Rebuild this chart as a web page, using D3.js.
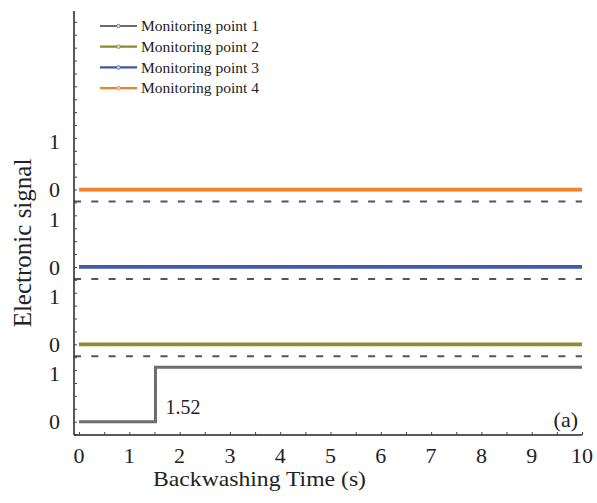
<!DOCTYPE html>
<html>
<head>
<meta charset="utf-8">
<script src="https://cdn.jsdelivr.net/npm/d3@7"></script>
<style>
  body { margin: 0; background: #fff; }
</style>
</head>
<body>
<div id="chart"></div>
<script>
// backwashing time (s) and the 0/1 signal of each monitoring point
const time = [0, 1.52, 1.52, 10];
const point1 = [0, 0, 1, 1];
const point2 = [0, 0, 0, 0];
const point3 = [0, 0, 0, 0];
const point4 = [0, 0, 0, 0];
const seriesNames = ["Monitoring point 1", "Monitoring point 2", "Monitoring point 3", "Monitoring point 4"];
const seriesColors = ["#6b6b6b", "#8a8a2e", "#3d57a9", "#f2802a"];
const xTicks = [0, 1, 2, 3, 4, 5, 6, 7, 8, 9, 10];
const stepLabel = "1.52";
const panelLabel = "(a)";

const offset = 1.42;        // vertical stacking distance between traces
const W = 597, H = 503;
const mLeft = 74, mRight = 582, mTop = 11, mBottom = 435;
const serif = "'Liberation Serif', 'Times New Roman', Times, 'DejaVu Serif', serif";

const svg = d3.select("#chart").append("svg")
  .attr("width", W).attr("height", H)
  .style("font-family", serif);

const x = d3.scaleLinear().domain([-0.1, 10]).range([mLeft, mRight]);
const y = d3.scaleLinear().domain([-0.244, 7.536]).range([mBottom, mTop]);

const series = [point1, point2, point3, point4];

// dashed separators between traces
[1, 2, 3].forEach(k => {
  svg.append("line")
    .attr("x1", mLeft).attr("x2", mRight)
    .attr("y1", y(k * offset - 0.22)).attr("y2", y(k * offset - 0.22))
    .attr("stroke", "#555").attr("stroke-width", 2)
    .attr("stroke-dasharray", "7,10.3");
});

// traces
const line = d3.line().x(d => x(d[0])).y(d => y(d[1]));
series.forEach((s, i) => {
  const pts = time.map((t, j) => [t, s[j] + i * offset]);
  svg.append("path")
    .attr("d", line(pts))
    .attr("fill", "none")
    .attr("stroke", seriesColors[i])
    .attr("stroke-width", i === 0 ? 3 : 3.8);
  svg.append("path")
    .attr("d", line(pts))
    .attr("fill", "none")
    .attr("stroke", "#fff")
    .attr("stroke-opacity", 0.18)
    .attr("stroke-width", 0.8)
    .attr("stroke-dasharray", "1,2");
});

// axes
const yMinor = d3.range(-1, 32).map(k => k * offset / 6);
svg.append("g")
  .attr("transform", `translate(${mLeft},0)`)
  .call(d3.axisRight(y).tickValues(yMinor).tickSize(3).tickFormat(""))
  .call(g => g.select(".domain").attr("d", `M0,${mTop}V${mBottom}`).attr("stroke", "#222").attr("stroke-width", 1.5))
  .call(g => g.selectAll(".tick line").attr("stroke", "#444"));

const xMinor = d3.range(0, 21).map(k => k * 0.5);
svg.append("g")
  .attr("transform", `translate(0,${mBottom})`)
  .call(d3.axisTop(x).tickValues(xMinor).tickSize(3).tickFormat(""))
  .call(g => g.select(".domain").attr("d", `M${mLeft},0H${mRight}`).attr("stroke", "#222").attr("stroke-width", 1.5))
  .call(g => g.selectAll(".tick line").attr("stroke", "#444"));

// x tick labels
svg.append("g").selectAll("text")
  .data(xTicks)
  .join("text")
  .attr("x", d => x(d))
  .attr("y", 463)
  .attr("text-anchor", "middle")
  .attr("font-size", 22)
  .attr("fill", "#222")
  .text(d => d);

// y tick labels: 0 and 1 for each stacked trace
const yLabels = [];
series.forEach((s, i) => {
  yLabels.push({ v: i * offset, t: "0" });
  yLabels.push({ v: i * offset + 0.88, t: "1" });
});
svg.append("g").selectAll("text")
  .data(yLabels)
  .join("text")
  .attr("x", 60)
  .attr("y", d => y(d.v))
  .attr("dy", "0.35em")
  .attr("text-anchor", "end")
  .attr("font-size", 22)
  .attr("fill", "#222")
  .text(d => d.t);

// axis titles
svg.append("text")
  .attr("x", 153)
  .attr("y", 486)
  .attr("font-size", 22)
  .attr("textLength", 213)
  .attr("lengthAdjust", "spacingAndGlyphs")
  .attr("fill", "#222")
  .text("Backwashing Time (s)");

svg.append("text")
  .attr("transform", `translate(31,243) rotate(-90)`)
  .attr("text-anchor", "middle")
  .attr("font-size", 25)
  .attr("fill", "#222")
  .text("Electronic signal");

// annotations
svg.append("text")
  .attr("x", x(1.52) + 10)
  .attr("y", 414)
  .attr("font-size", 20)
  .attr("fill", "#222")
  .text(stepLabel);

svg.append("text")
  .attr("x", 578)
  .attr("y", 427)
  .attr("text-anchor", "end")
  .attr("font-size", 22)
  .attr("fill", "#222")
  .text(panelLabel);

// legend
const legend = svg.append("g");
seriesNames.forEach((name, i) => {
  const ly = 26 + i * 20.7;
  legend.append("line")
    .attr("x1", 100).attr("x2", 137)
    .attr("y1", ly).attr("y2", ly)
    .attr("stroke", seriesColors[i]).attr("stroke-width", 2.2);
  legend.append("circle")
    .attr("cx", 118.5).attr("cy", ly).attr("r", 1.8)
    .attr("fill", "#ddd").attr("stroke", seriesColors[i]).attr("stroke-width", 0.8);
  legend.append("text")
    .attr("x", 141).attr("y", ly)
    .attr("dy", "0.33em")
    .attr("font-size", 15.5)
    .attr("fill", "#222")
    .text(name);
});
</script>
</body>
</html>
